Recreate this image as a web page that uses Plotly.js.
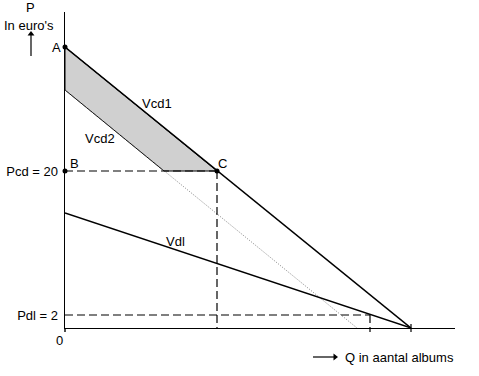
<!DOCTYPE html>
<html>
<head>
<meta charset="utf-8">
<script src="https://cdn.plot.ly/plotly-3.0.1.min.js"></script>
<style>html,body{margin:0;padding:0;background:#fff;}#chart{width:479px;height:376px;}</style>
</head>
<body>
<div id="chart"></div>
<script>
// Schematic units (Q horizontal, P vertical)
const qVcd1 = [0, 346];
const pVcd1 = [281, 0];
const qVcd2 = [0, 292];
const pVcd2 = [238, 0];
const qVdl = [0, 346];
const pVdl = [115, 0];
const qShade = [0, 152, 99, 0, 0];
const pShade = [281, 157, 157, 238, 281];
const pointNames = ['A', 'B', 'C'];
const qPoints = [0, 0, 152];
const pPoints = [281, 157, 157];
const pcd = 157, qC = 152;
const pdl = 13, qDl = 305;
const yTickVals = [13, 157];
const yTickText = ['Pdl = 2', 'Pcd = 20'];
const lineLabels = ['Vcd1', 'Vcd2', 'Vdl'];

const FONT = 'Liberation Sans, Arial, sans-serif';
const W = 479, H = 376;
const XR = [0, 390], YR = [0, 316];

const traces = [
  {x: qShade, y: pShade, mode: 'lines', fill: 'toself', fillcolor: '#d0d0d0',
   line: {color: '#000', width: 1}, hoverinfo: 'skip'},
  {x: qVcd2, y: pVcd2, mode: 'lines', line: {color: '#666', width: 0.8, dash: '1px,1.5px'}},
  {x: [0, qC], y: [pcd, pcd], mode: 'lines', line: {color: '#000', width: 1.2, dash: '8px,4px'}},
  {x: [qC, qC], y: [pcd, 0], mode: 'lines', line: {color: '#000', width: 1.2, dash: '8px,4px'}},
  {x: [0, qDl], y: [pdl, pdl], mode: 'lines', line: {color: '#000', width: 1.2, dash: '8px,4px'}},
  {x: qVcd1, y: pVcd1, mode: 'lines', line: {color: '#000', width: 1.6}},
  {x: qVdl, y: pVdl, mode: 'lines', line: {color: '#000', width: 1.4}},
  {x: qPoints, y: pPoints, mode: 'markers', marker: {color: '#000', size: 5}, cliponaxis: false},
  // axis-name arrows on a full-figure overlay frame (pixel units)
  {x: [31, 31], y: [56, 35], xaxis: 'x2', yaxis: 'y2', mode: 'lines', line: {color: '#000', width: 1.2}},
  {x: [31], y: [34], xaxis: 'x2', yaxis: 'y2', mode: 'markers',
   marker: {symbol: 'triangle-up', size: 6, color: '#000'}},
  {x: [313, 334], y: [357, 357], xaxis: 'x2', yaxis: 'y2', mode: 'lines', line: {color: '#000', width: 1.2}},
  {x: [335], y: [357], xaxis: 'x2', yaxis: 'y2', mode: 'markers',
   marker: {symbol: 'triangle-right', size: 6, color: '#000'}}
];

const annotations = [
  {text: 'P', x: 30, y: 7},
  {text: "In euro's", x: 29, y: 25},
  {text: 'Q in aantal albums', x: 343, y: 357, xanchor: 'left'},
  {text: '0', x: 59, y: 340},
  {text: pointNames[0], x: 63, y: 47, xanchor: 'right'},
  {text: pointNames[1], x: 68, y: 163, xanchor: 'left'},
  {text: pointNames[2], x: 216, y: 163, xanchor: 'left'},
  {text: lineLabels[0], x: 157, y: 103},
  {text: lineLabels[1], x: 100, y: 138},
  {text: lineLabels[2], x: 175, y: 241}
].map(a => Object.assign({xref: 'x2', yref: 'y2', showarrow: false,
  xanchor: 'center', yanchor: 'middle',
  font: {family: FONT, size: 13, color: '#000'}}, a));

const shapes = [
  {type: 'line', xref: 'x2', yref: 'y2', x0: 370, x1: 370, y0: 315, y1: 332,
   line: {color: '#000', width: 1.2, dash: '8px,4px'}},
  {type: 'line', xref: 'x2', yref: 'y2', x0: 411, x1: 411, y0: 324, y1: 332,
   line: {color: '#000', width: 1.2}},
  {type: 'line', xref: 'x2', yref: 'y2', x0: 65, x1: 65, y0: 328, y1: 332,
   line: {color: '#000', width: 1.4}}
];

const layout = {
  width: W, height: H,
  margin: {l: 0, r: 0, t: 0, b: 0, pad: 0},
  paper_bgcolor: '#fff', plot_bgcolor: 'rgba(0,0,0,0)',
  showlegend: false,
  font: {family: FONT, size: 13, color: '#000'},
  xaxis: {domain: [65 / W, 455 / W], anchor: 'y', range: XR, showgrid: false, zeroline: false,
          showline: true, linecolor: '#000', linewidth: 1.4,
          ticks: '', showticklabels: false, fixedrange: true},
  yaxis: {domain: [48 / H, 364 / H], anchor: 'x', range: YR, showgrid: false, zeroline: false,
          showline: true, linecolor: '#000', linewidth: 1.4,
          ticks: '', tickvals: yTickVals, ticktext: yTickText, ticklabelstandoff: 3,
          tickfont: {family: FONT, size: 13, color: '#000'}, fixedrange: true},
  xaxis2: {domain: [0, 1], anchor: 'y2', range: [0, W], visible: false, fixedrange: true},
  yaxis2: {domain: [0, 1], anchor: 'x2', range: [H, 0], visible: false, fixedrange: true},
  annotations: annotations,
  shapes: shapes
};

Plotly.newPlot('chart', traces, layout, {staticPlot: true, displayModeBar: false});
</script>
</body>
</html>
